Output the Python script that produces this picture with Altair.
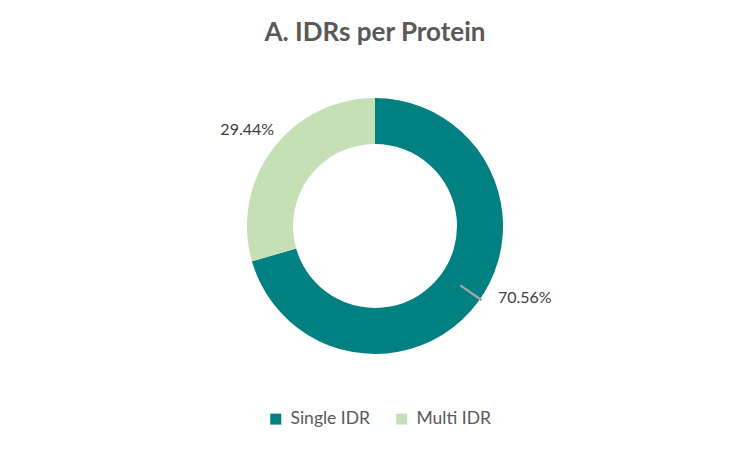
import altair as alt
import pandas as pd

categories = ["Single IDR", "Multi IDR"]
values = [70.56, 29.44]
labels = ["70.56%", "29.44%"]
colors = ["#008080", "#C5E0B4"]

df = pd.DataFrame({
    "category": categories,
    "value": values,
    "label": labels,
    "order": list(range(len(categories))),
})

FONT = "Lato"

base = alt.Chart(df)

ring = base.mark_arc(outerRadius=128, innerRadius=82, strokeWidth=0).encode(
    theta=alt.Theta("value:Q", stack=True),
    color=alt.Color(
        "category:N",
        scale=alt.Scale(domain=categories, range=colors),
        sort=categories,
        legend=alt.Legend(
            title=None,
            orient="none",
            legendX=259,
            legendY=362,
            direction="horizontal",
            symbolType="square",
            symbolSize=121,
            symbolStrokeWidth=0,
            labelFont=FONT,
            labelFontSize=17.5,
            labelColor="#595959",
            columnPadding=22,
            labelOffset=6,
        ),
    ),
    order=alt.Order("order:Q"),
)

# leader line: thin radial arc near the middle of the Single IDR slice
leader = base.transform_window(
    cum="sum(value)", sort=[alt.SortField("order")]
).transform_calculate(
    lo="datum.cum - datum.value/2 - 0.75",
    hi="datum.cum - datum.value/2 - 0.45",
).transform_filter(
    alt.datum.category == "Single IDR"
).mark_arc(innerRadius=104, outerRadius=130, color="#A6A6A6").encode(
    theta=alt.Theta("lo:Q"),
    theta2="hi:Q",
)

lab_common = dict(font=FONT, fontSize=16, color="#404040")

t1 = base.mark_text(radius=160, dx=22, dy=-24, align="center", baseline="middle", **lab_common).encode(
    theta=alt.Theta("value:Q", stack=True),
    order=alt.Order("order:Q"),
    text=alt.condition(alt.datum.category == "Single IDR", "label:N", alt.value("")),
)

t2 = base.mark_text(radius=160, align="center", baseline="middle", **lab_common).encode(
    theta=alt.Theta("value:Q", stack=True),
    order=alt.Order("order:Q"),
    text=alt.condition(alt.datum.category == "Multi IDR", "label:N", alt.value("")),
)

chart = alt.layer(ring, leader, t1, t2).properties(
    width=734,
    height=356,
    padding={"left": 0, "right": 0, "top": 12, "bottom": 0},
    title=alt.TitleParams(
        "A. IDRs per Protein",
        font=FONT,
        fontSize=26,
        fontWeight="bold",
        color="#595959",
        anchor="middle",
        offset=2,
    ),
).configure_view(stroke=None)

chart.save("out.html", embed_options={"renderer": "svg", "actions": False})
